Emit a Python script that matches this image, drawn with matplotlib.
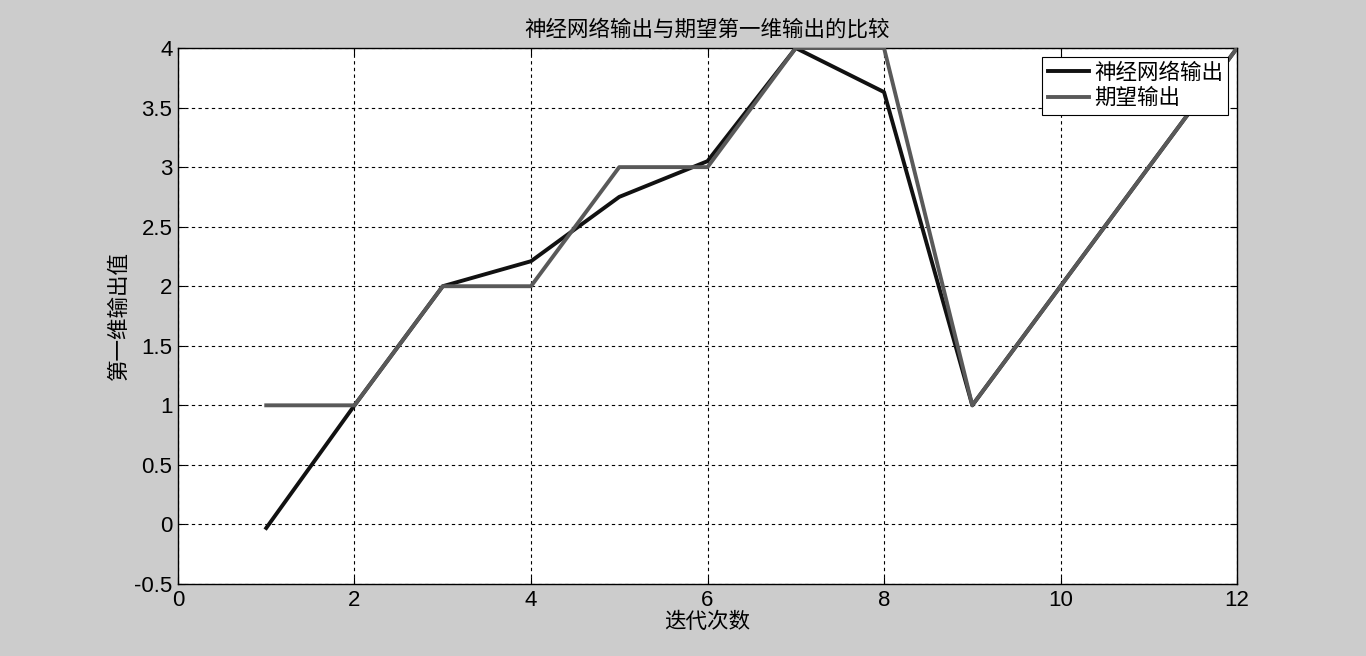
import numpy as np
import matplotlib
matplotlib.use('Agg')
from matplotlib import pyplot as plt

plt.rcParams['font.family'] = ['Liberation Sans', 'Noto Sans CJK SC', 'DejaVu Sans']

# Data
iterations = [1, 2, 3, 4, 5, 6, 7, 8, 9, 10, 11, 12]
net_output = [-0.03, 1.0, 2.0, 2.21, 2.75, 3.05, 4.0, 3.63, 1.0, 2.0, 3.0, 4.0]
expected   = [1, 1, 2, 2, 3, 3, 4, 4, 1, 2, 3, 4]

x_ticks = [0, 2, 4, 6, 8, 10, 12]
y_ticks = [-0.5, 0, 0.5, 1, 1.5, 2, 2.5, 3, 3.5, 4]
y_tick_labels = ['-0.5', '0', '0.5', '1', '1.5', '2', '2.5', '3', '3.5', '4']

cjk = ['Noto Sans CJK SC', 'DejaVu Sans']

fig = plt.figure(figsize=(13.66, 6.56), dpi=100, facecolor='#cccccc')
ax = fig.add_axes([0.1303, 0.1098, 0.7753, 0.817])
ax.set_facecolor('white')

ax.plot(iterations, net_output, color='#111111', linewidth=2.8, label='神经网络输出', zorder=3)
ax.plot(iterations, expected, color='#595959', linewidth=2.8, label='期望输出', zorder=3)

ax.set_xlim(0, 12)
ax.set_ylim(-0.5, 4)
ax.set_xticks(x_ticks)
ax.set_yticks(y_ticks)
ax.set_yticklabels(y_tick_labels)
ax.tick_params(direction='in', length=5, labelsize=16, colors='black', top=True, right=True, pad=4)
ax.grid(True, color='black', linestyle=(0, (3, 3)), linewidth=0.8)
for s in ax.spines.values():
    s.set_linewidth(1.0)

ax.set_title('神经网络输出与期望第一维输出的比较', fontsize=15.5, family=cjk, pad=9)
ax.set_xlabel('迭代次数', fontsize=15.5, family=cjk, labelpad=0)
ax.set_ylabel('第一维输出值', fontsize=15.5, family=cjk, labelpad=3)

leg = ax.legend(loc='upper right', fancybox=False, framealpha=1, edgecolor='black',
                prop={'family': cjk, 'size': 15.5},
                handlelength=1.9, handletextpad=0.25, borderaxespad=0.4,
                labelspacing=0.15, borderpad=0.25)
leg.get_frame().set_linewidth(0.8)

fig.savefig('out.png', dpi=100, facecolor=fig.get_facecolor())
